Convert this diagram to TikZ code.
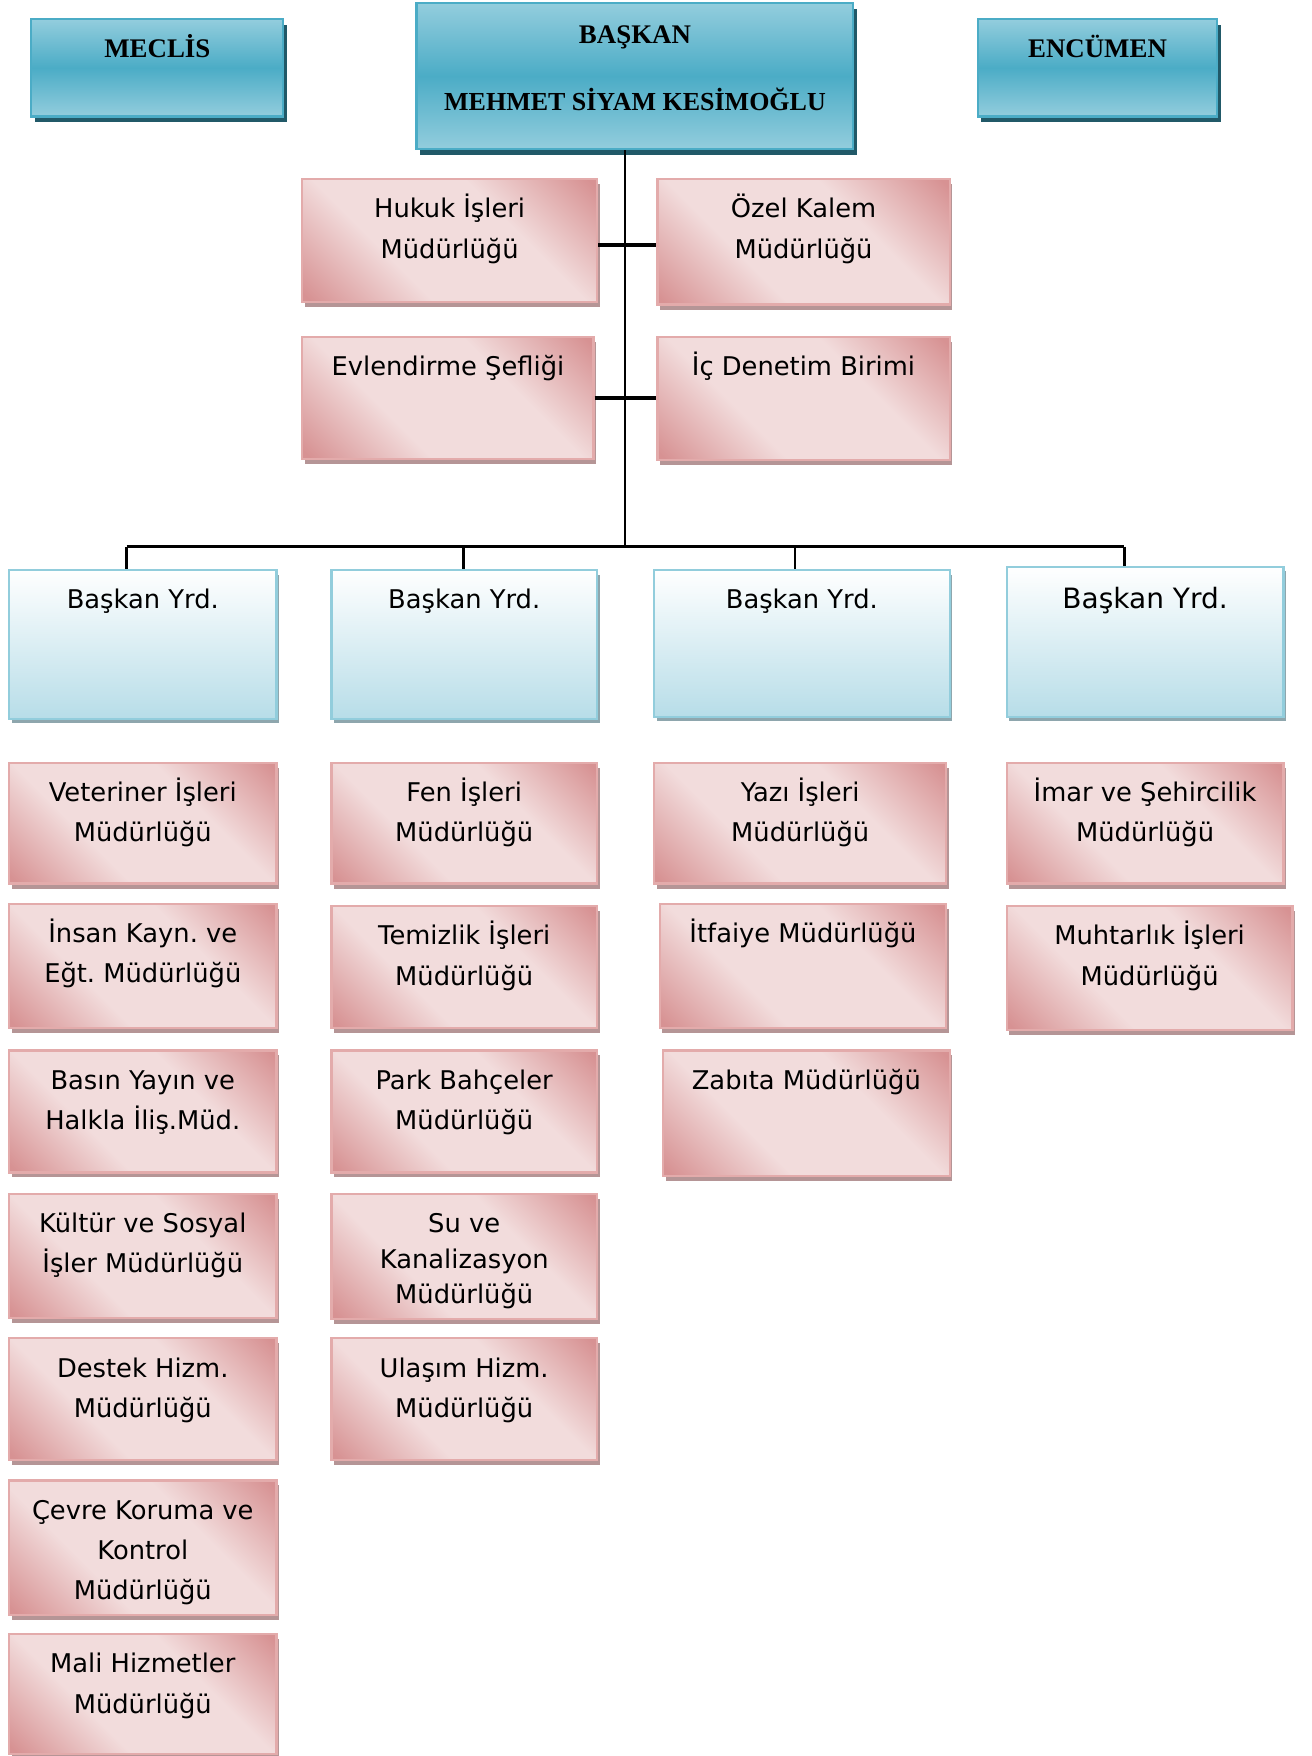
\documentclass[tikz,border=0pt]{standalone}
\usepackage{fontspec}
\setmainfont{DejaVu Sans}
\newfontfamily\basfont{Liberation Serif}
\usetikzlibrary{positioning,shadows}
\frenchspacing

\definecolor{mavikoyu}{HTML}{4BACC6}
\definecolor{maviacik}{HTML}{93CDDD}
\definecolor{mavigolge}{HTML}{215968}
\definecolor{yrdalt}{HTML}{B7DDE8}
\definecolor{yrdcizgi}{HTML}{92CDDC}
\definecolor{yrdgolge}{HTML}{8EA6AD}
\definecolor{pembekoyu}{HTML}{D79293}
\definecolor{pembeacik}{HTML}{F2DCDC}
\definecolor{pembecizgi}{HTML}{E3ABAB}
\definecolor{pembegolge}{HTML}{B59596}
\pgfdeclareverticalshading{pembegecis}{100bp}{color(0bp)=(pembekoyu); color(16bp)=(pembekoyu); color(37bp)=(pembeacik); color(63bp)=(pembeacik); color(84bp)=(pembekoyu); color(100bp)=(pembekoyu)}

\begin{document}
\begin{tikzpicture}[x=0.5pt,y=-0.5pt]
	\tikzset{
		ust/.style={draw=mavikoyu,line width=1pt,inner sep=0pt,top color=maviacik,bottom color=maviacik,middle color=mavikoyu,
			drop shadow={shadow xshift=1.5pt,shadow yshift=-2.5pt,fill=mavigolge,opacity=1}},
		yrd/.style={draw=yrdcizgi,line width=1pt,inner sep=0pt,top color=white,bottom color=yrdalt,
			drop shadow={shadow xshift=1.2pt,shadow yshift=-2pt,fill=yrdgolge,opacity=1}},
		pembe/.style={draw=pembecizgi,line width=1pt,inner sep=0pt,shading=pembegecis,shading angle=-45,
			drop shadow={shadow xshift=1.2pt,shadow yshift=-2.2pt,fill=pembegolge,opacity=1}},
		yazi/.style={inner sep=0pt,align=center,font=\fontsize{11.5}{18}\selectfont},
		baslik/.style={inner sep=0pt,align=center,font=\basfont\bfseries\fontsize{12}{18}\selectfont},
		hat/.style={line width=1.2pt},
		kol/.style={line width=1.6pt}
	}
	\useasboundingbox (0,0) rectangle (1171,1568);
	% ust sira
	\node[ust,minimum width=112.5pt,minimum height=43.5pt] (meclis) at (140.5,60.5) {};
	\node[baslik,below=4.9pt of meclis.north] (meclis-t) {\strut MECLİS};
	\node[ust,minimum width=195pt,minimum height=65pt] (baskan) at (567,68) {};
	\node[baslik,below=5.4pt of baskan.north] (baskan-t) {\strut BAŞKAN\\[12pt]{\fontsize{11.6}{18}\selectfont MEHMET SİYAM KESİMOĞLU}};
	\node[ust,minimum width=107pt,minimum height=43.5pt] (encumen) at (980,60.5) {};
	\node[baslik,below=4.9pt of encumen.north] (encumen-t) {\strut ENCÜMEN};
	% baskana bagli birimler
	\node[pembe,minimum width=131.5pt,minimum height=55pt] (hukuk) at (401.5,215) {};
	\node[yazi,below=5pt of hukuk.north] (hukuk-t) {\strut Hukuk İşleri\\Müdürlüğü};
	\node[pembe,minimum width=130.5pt,minimum height=56pt] (ozel) at (717.5,216) {};
	\node[yazi,below=5pt of ozel.north] (ozel-t) {\strut Özel Kalem\\Müdürlüğü};
	\node[pembe,minimum width=130pt,minimum height=54.5pt] (evlen) at (400,355.5) {};
	\node[yazi,below=5pt of evlen.north] (evlen-t) {\strut Evlendirme Şefliği};
	\node[pembe,minimum width=130.5pt,minimum height=55pt] (icden) at (717.5,356) {};
	\node[yazi,below=5pt of icden.north] (icden-t) {\strut İç Denetim Birimi};
	% baskan yardimcilari
	\node[yrd,minimum width=119.5pt,minimum height=66.5pt] (yrd1) at (127.5,575.5) {};
	\node[yazi,below=4.7pt of yrd1.north] (yrd1-t) {\strut Başkan Yrd.};
	\node[yrd,minimum width=118.5pt,minimum height=66.5pt] (yrd2) at (414.5,575.5) {};
	\node[yazi,below=4.7pt of yrd2.north] (yrd2-t) {\strut Başkan Yrd.};
	\node[yrd,minimum width=132pt,minimum height=65.5pt] (yrd3) at (716,574.5) {};
	\node[yazi,below=4.7pt of yrd3.north] (yrd3-t) {\strut Başkan Yrd.};
	\node[yrd,minimum width=123.5pt,minimum height=67pt] (yrd4) at (1022.5,573) {};
	\node[yazi,font=\fontsize{12.5}{18}\selectfont,below=6.2pt of yrd4.north] (yrd4-t) {\strut Başkan Yrd.};
	% 1. sutun
	\node[pembe,minimum width=119.5pt,minimum height=54pt] (vet) at (127.5,735) {};
	\node[yazi,below=5pt of vet.north] (vet-t) {\strut Veteriner İşleri\\Müdürlüğü};
	\node[pembe,minimum width=119.5pt,minimum height=55.5pt] (insan) at (127.5,862.5) {};
	\node[yazi,below=5pt of insan.north] (insan-t) {\strut İnsan Kayn. ve\\Eğt. Müdürlüğü};
	\node[pembe,minimum width=119.5pt,minimum height=54.5pt] (basin) at (127.5,992.5) {};
	\node[yazi,below=5pt of basin.north] (basin-t) {\strut Basın Yayın ve\\Halkla İliş.Müd.};
	\node[pembe,minimum width=119.5pt,minimum height=55.5pt] (kultur) at (127.5,1121.5) {};
	\node[yazi,below=5pt of kultur.north] (kultur-t) {\strut Kültür ve Sosyal\\İşler Müdürlüğü};
	\node[pembe,minimum width=119.5pt,minimum height=54.5pt] (destek) at (127.5,1249.5) {};
	\node[yazi,below=5pt of destek.north] (destek-t) {\strut Destek Hizm.\\Müdürlüğü};
	\node[pembe,minimum width=119.5pt,minimum height=60pt] (cevre) at (127.5,1382) {};
	\node[yazi,below=5pt of cevre.north] (cevre-t) {\strut Çevre Koruma ve\\Kontrol\\Müdürlüğü};
	\node[pembe,minimum width=119.5pt,minimum height=53.5pt] (mali) at (127.5,1512.5) {};
	\node[yazi,below=5pt of mali.north] (mali-t) {\strut Mali Hizmetler\\Müdürlüğü};
	% 2. sutun
	\node[pembe,minimum width=118.5pt,minimum height=54pt] (fen) at (414.5,735) {};
	\node[yazi,below=5pt of fen.north] (fen-t) {\strut Fen İşleri\\Müdürlüğü};
	\node[pembe,minimum width=118.5pt,minimum height=54.5pt] (temizlik) at (414.5,863.5) {};
	\node[yazi,below=5pt of temizlik.north] (temizlik-t) {\strut Temizlik İşleri\\Müdürlüğü};
	\node[pembe,minimum width=118.5pt,minimum height=54.5pt] (park) at (414.5,992.5) {};
	\node[yazi,below=5pt of park.north] (park-t) {\strut Park Bahçeler\\Müdürlüğü};
	\node[pembe,minimum width=118.5pt,minimum height=56pt] (su) at (414.5,1122) {};
	\node[yazi,font=\fontsize{11.5}{15.75}\selectfont,below=6.7pt of su.north] (su-t) {\strut Su ve\\Kanalizasyon\\Müdürlüğü};
	\node[pembe,minimum width=118.5pt,minimum height=54.5pt] (ulasim) at (414.5,1249.5) {};
	\node[yazi,below=5pt of ulasim.north] (ulasim-t) {\strut Ulaşım Hizm.\\Müdürlüğü};
	% 3. sutun
	\node[pembe,minimum width=130.5pt,minimum height=54pt] (yazi) at (714.5,735) {};
	\node[yazi,below=5pt of yazi.north] (yazi-t) {\strut Yazı İşleri\\Müdürlüğü};
	\node[pembe,minimum width=128pt,minimum height=55.5pt] (itfaiye) at (717,862.5) {};
	\node[yazi,below=5pt of itfaiye.north] (itfaiye-t) {\strut İtfaiye Müdürlüğü};
	\node[pembe,minimum width=128pt,minimum height=56pt] (zabita) at (720,994) {};
	\node[yazi,below=5pt of zabita.north] (zabita-t) {\strut Zabıta Müdürlüğü};
	% 4. sutun
	\node[pembe,minimum width=123.5pt,minimum height=54pt] (imar) at (1022.5,735) {};
	\node[yazi,below=5pt of imar.north] (imar-t) {\strut İmar ve Şehircilik\\Müdürlüğü};
	\node[pembe,minimum width=127.5pt,minimum height=55.5pt] (muhtar) at (1026.5,864.5) {};
	\node[yazi,below=5pt of muhtar.north] (muhtar-t) {\strut Muhtarlık İşleri\\Müdürlüğü};
	% baglantilar
	\coordinate (govde) at (558,488);
	\coordinate (d1) at (113,488);
	\coordinate (d2) at (414,488);
	\coordinate (d3) at (710,488);
	\coordinate (d4) at (1004,488);
	\draw[hat] (baskan.south -| govde) -- (govde);
	\draw[kol] ([yshift=-2pt]hukuk.east) -- ([yshift=-2pt]hukuk.east -| ozel.west);
	\draw[kol] (evlen.east) -- (evlen.east -| icden.west);
	\draw[hat] (d1) -- (d4);
	\foreach \i in {1,2,3,4}{\draw[hat] (d\i) -- (d\i |- yrd\i.north);}
\end{tikzpicture}
\end{document}
